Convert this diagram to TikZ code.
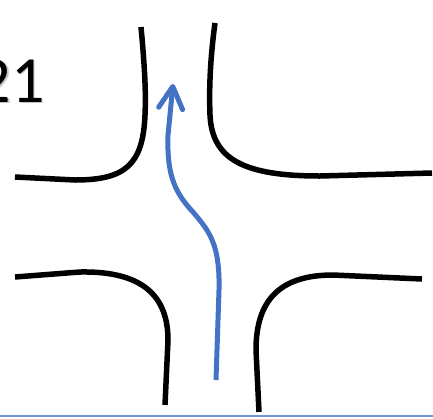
\documentclass[tikz,border=0pt]{standalone}
\usepackage{fontspec}
\setmainfont{Carlito}
\usetikzlibrary{arrows.meta}
\definecolor{arrowblue}{HTML}{4472C4}
\definecolor{rulebl}{HTML}{6F96D8}
\tikzset{
  road/.style={line width=5.5pt, black, line cap=butt},
  route/.style={line width=5pt, arrowblue, line cap=butt,
    -{Straight Barb[length=22pt,width=24pt,line cap=round,line join=round]}},
  baseline rule/.style={line width=1.5pt, rulebl}
}
\begin{document}
\begin{tikzpicture}[x=1pt,y=-1pt]
\useasboundingbox (0,0) rectangle (433,418);
\begin{scope}
\clip (0,0) rectangle (433,418);
% label
\node[anchor=base east, inner sep=0pt, text=gray!45, font=\fontsize{66}{66}\selectfont] at (46.5,103.5) {21};
\node (lbl) [anchor=base east, inner sep=0pt, font=\fontsize{66}{66}\selectfont] at (45,102) {21};
% road edges
\draw[road] (141,27) .. controls (145,70) and (146,95) .. (145,115)
  .. controls (143,165) and (125,180) .. (75,180) -- (15,177);
\draw[road] (215,23) .. controls (210,60) and (209,90) .. (210,115)
  .. controls (212,160) and (245,176) .. (320,176) -- (432,173);
\draw[road] (15,277) -- (80,272) .. controls (135,271) and (168,290) .. (168,340) -- (165,405);
\draw[road] (422,279) -- (333,275) .. controls (280,275) and (256,300) .. (256,350) -- (259,412);
% route arrow
\coordinate (start) at (216,380);
\coordinate (tip) at (173,84);
\draw[route] (start) -- (219,290) .. controls (220,245) and (210,232) .. (193,212)
  .. controls (172,190) and (167,170) .. (168,135) -- (tip);
% bottom rule
\coordinate (r1) at (0,416);
\coordinate (r2) at (433,416);
\draw[baseline rule] (r1) -- (r2);
\end{scope}
\end{tikzpicture}
\end{document}
